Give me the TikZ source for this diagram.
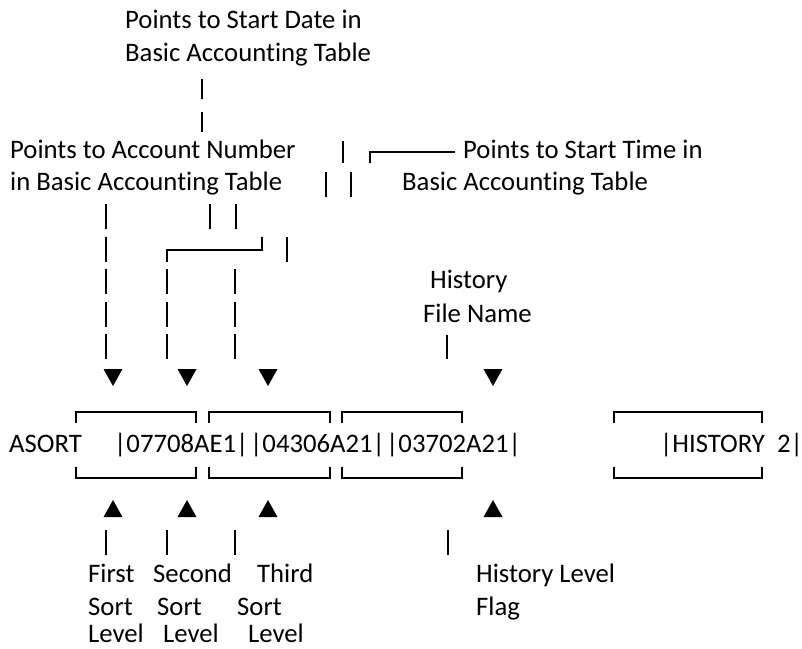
\documentclass[tikz,border=0pt]{standalone}
\usepackage{fontspec}
\setmainfont{Carlito}[Ligatures=NoCommon]
\begin{document}
\begin{tikzpicture}[x=1pt,y=-1pt,
  txt/.style={anchor=base west,inner sep=0pt,font=\fontsize{26.7}{32}\selectfont},
  bar/.style={line width=1.4pt},
  boxl/.style={line width=1.6pt},
  tri/.style={fill=black}]
\useasboundingbox (0,0) rectangle (802,648);
% texts
\node[txt] (sd1) at (125,28) {Points to Start Date in};
\node[txt] (sd2) at (125,61) {Basic Accounting Table};
\node[txt] (an1) at (10,158) {Points to Account Number};
\node[txt] (an2) at (10,190) {in Basic Accounting Table};
\node[txt] (st1) at (463,158) {Points to Start Time in};
\node[txt] (st2) at (402,190) {Basic Accounting Table};
\node[txt] (hf1) at (430,288) {History};
\node[txt] (hf2) at (423,322) {File Name};
\node[txt] (asort) at (9,452) {ASORT};
\node[txt] (rec1) at (114,452) {|07708AE1|};
\node[txt] (rec2) at (250,452) {|04306A21|};
\node[txt] (rec3) at (386,452) {|03702A21|};
\node[txt] (hist) at (660,452) {|HISTORY\ \ 2|};
\node[txt] (f1) at (88,582) {First};
\node[txt] (f2) at (88,615) {Sort};
\node[txt] (f3) at (88,642) {Level};
\node[txt] (s1) at (153,582) {Second};
\node[txt] (s2) at (157,615) {Sort};
\node[txt] (s3) at (163,642) {Level};
\node[txt] (t1) at (257,582) {Third};
\node[txt] (t2) at (237,615) {Sort};
\node[txt] (t3) at (248,642) {Level};
\node[txt] (h1) at (476,582) {History Level};
\node[txt] (h2) at (476,615) {Flag};
% coordinates for connectors
\coordinate (a0) at (202,79);   \coordinate (a1) at (202,132);
\coordinate (b0) at (343,141);  \coordinate (b1) at (343,163);
\coordinate (c0) at (326,172);  \coordinate (c1) at (326,197);
\coordinate (d0) at (351,172);  \coordinate (d1) at (351,197);
\coordinate (e0) at (370,163);  \coordinate (e1) at (370,152);  \coordinate (e2) at (455,152);
\coordinate (g0) at (106,204);  \coordinate (g1) at (106,359);
\coordinate (h0) at (210,204);  \coordinate (hh1) at (210,229);
\coordinate (i0) at (236,204);  \coordinate (i1) at (236,229);
\coordinate (j0) at (287,237);  \coordinate (j1) at (287,262);
\coordinate (k0) at (167,262);  \coordinate (k1) at (167,250);
\coordinate (k2) at (262,250);  \coordinate (k3) at (262,237);
\coordinate (l0) at (167,269);  \coordinate (l1) at (167,359);
\coordinate (m0) at (235,269);  \coordinate (m1) at (235,359);
\coordinate (n0) at (447,335);  \coordinate (n1) at (447,359);
\coordinate (p0) at (106,530);  \coordinate (p1) at (106,555);
\coordinate (q0) at (167,530);  \coordinate (q1) at (167,555);
\coordinate (r0) at (235,530);  \coordinate (r1) at (235,555);
\coordinate (u0) at (448,530);  \coordinate (u1) at (448,555);
% vertical bar connectors
\draw[bar,dash pattern=on 20pt off 13pt] (a0) -- (a1);
\draw[bar] (b0) -- (b1);
\draw[bar] (c0) -- (c1);
\draw[bar] (d0) -- (d1);
\draw[boxl] (e0) -- (e1) -- (e2);
\draw[bar,dash pattern=on 25pt off 7.5pt] (g0) -- (g1);
\draw[bar] (h0) -- (hh1);
\draw[bar] (i0) -- (i1);
\draw[bar] (j0) -- (j1);
\draw[boxl] (k0) -- (k1) -- (k2) -- (k3);
\draw[bar,dash pattern=on 25pt off 7.5pt] (l0) -- (l1);
\draw[bar,dash pattern=on 25pt off 7.5pt] (m0) -- (m1);
\draw[bar] (n0) -- (n1);
\draw[bar] (p0) -- (p1);
\draw[bar] (q0) -- (q1);
\draw[bar] (r0) -- (r1);
\draw[bar] (u0) -- (u1);
% triangles
\foreach \x in {113,187,268,493}{
  \fill ({\x-9.5},369) -- ({\x+9.5},369) -- (\x,386) -- cycle;
  \fill ({\x-9.5},517) -- ({\x+9.5},517) -- (\x,500) -- cycle;
}
% box brackets
\foreach \l/\r in {76/196,209/330,342/462,614/762}{
  \draw[boxl] (\l,423) -- (\l,412) -- (\r,412) -- (\r,423);
  \draw[boxl] (\l,467) -- (\l,478) -- (\r,478) -- (\r,467);
}
\end{tikzpicture}
\end{document}
